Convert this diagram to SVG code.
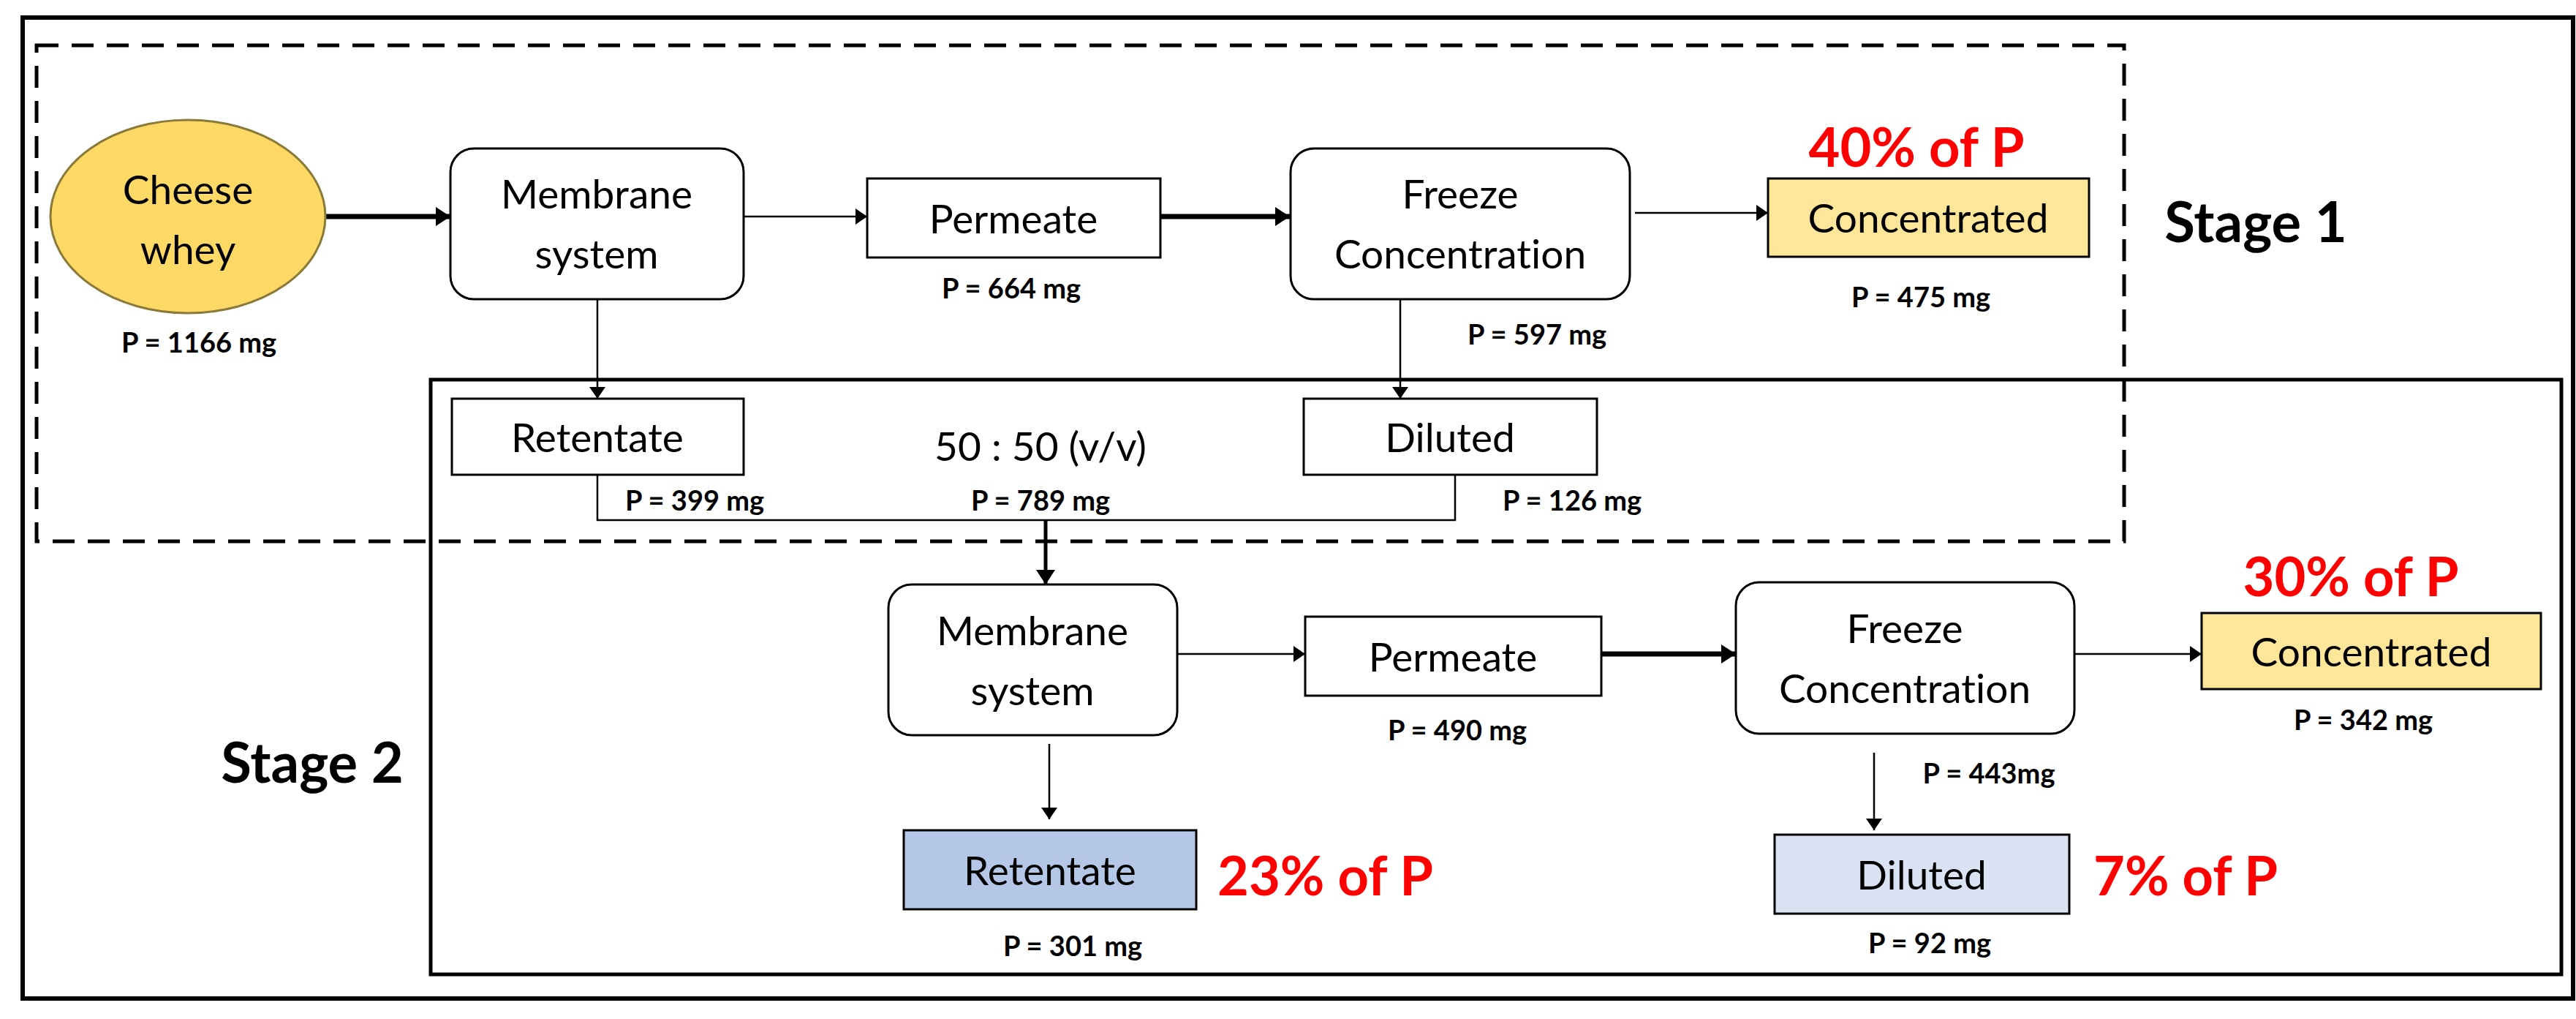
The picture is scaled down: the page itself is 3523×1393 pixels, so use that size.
<svg xmlns="http://www.w3.org/2000/svg" width="3523" height="1393" viewBox="0 0 3523 1393">
<style>
text{font-variant-ligatures:none}
.n{fill:#fff;stroke:#000;stroke-width:3}
.t{font-family:Lato,"Liberation Sans",sans-serif;font-size:55px;fill:#000;text-anchor:middle;dominant-baseline:central}
.p{font-family:Lato,"Liberation Sans",sans-serif;font-size:38px;font-weight:bold;fill:#000;text-anchor:middle;dominant-baseline:central}
.r{font-family:Lato,"Liberation Sans",sans-serif;font-size:74px;font-weight:bold;fill:#f00;dominant-baseline:central}
.s{font-family:Lato,"Liberation Sans",sans-serif;font-size:76px;font-weight:bold;fill:#000;text-anchor:middle;dominant-baseline:central}
.c{fill:none;stroke:#000;stroke-width:2.5}
.k{fill:none;stroke:#000;stroke-width:7}
</style>
<defs>
<marker id="ah" markerWidth="16" markerHeight="22" refX="16" refY="11" orient="auto" markerUnits="userSpaceOnUse"><path d="M0,0L16,11L0,22z"/></marker>
<marker id="ak" markerWidth="20" markerHeight="26" refX="20" refY="13" orient="auto" markerUnits="userSpaceOnUse"><path d="M0,0L20,13L0,26z"/></marker>
</defs>
<rect width="3523" height="1393" fill="#fff"/>
<rect x="31" y="24" width="3488" height="1341" fill="none" stroke="#000" stroke-width="6"/>
<rect x="50" y="62" width="2855" height="678" fill="none" stroke="#000" stroke-width="5" stroke-dasharray="30,18"/>
<rect x="589" y="519" width="2914" height="813" fill="none" stroke="#000" stroke-width="5"/>
<text class="s" x="3085" y="301">Stage 1</text>
<text class="s" x="427" y="1040">Stage 2</text>
<g id="connectors">
<line class="k" x1="445" y1="296" x2="616" y2="296" marker-end="url(#ak)"/>
<line class="c" x1="1017" y1="296" x2="1186" y2="296" marker-end="url(#ah)"/>
<line class="k" x1="1587" y1="296" x2="1764" y2="296" marker-end="url(#ak)"/>
<line class="c" x1="2236" y1="291" x2="2418" y2="291" marker-end="url(#ah)"/>
<line class="c" x1="817" y1="409" x2="817" y2="545" marker-end="url(#ah)"/>
<line class="c" x1="1915" y1="409" x2="1915" y2="545" marker-end="url(#ah)"/>
<polyline class="c" points="817,649 817,711 1990,711 1990,649"/>
<line stroke="#000" stroke-width="5" x1="1430" y1="711" x2="1430" y2="799" marker-end="url(#ak)"/>
<line class="c" x1="1610" y1="894" x2="1785" y2="894" marker-end="url(#ah)"/>
<line class="k" x1="2190" y1="894" x2="2374" y2="894" marker-end="url(#ak)"/>
<line class="c" x1="2837" y1="894" x2="3011" y2="894" marker-end="url(#ah)"/>
<line class="c" x1="1435" y1="1017" x2="1435" y2="1120" marker-end="url(#ah)"/>
<line class="c" x1="2563" y1="1029" x2="2563" y2="1135" marker-end="url(#ah)"/>
</g>
<g id="whey"><ellipse cx="257" cy="296" rx="188" ry="132" fill="#FFD966" stroke="#8a7a3a" stroke-width="3"/><text class="t" x="257" y="258">Cheese</text><text class="t" x="257" y="340">whey</text><text class="p" x="272" y="467">P = 1166 mg</text></g>
<g id="mem1"><rect class="n" x="616" y="203" width="401" height="206" rx="32"/><text class="t" x="816" y="264">Membrane</text><text class="t" x="816" y="346">system</text></g>
<g id="perm1"><rect class="n" x="1186" y="244" width="401" height="108"/><text class="t" x="1386" y="298">Permeate</text><text class="p" x="1383" y="393">P = 664 mg</text></g>
<g id="freeze1"><rect class="n" x="1765" y="203" width="464" height="206" rx="32"/><text class="t" x="1997" y="264">Freeze</text><text class="t" x="1997" y="346">Concentration</text><text class="p" x="2102" y="456">P = 597 mg</text></g>
<g id="conc1"><rect x="2418" y="244" width="439" height="107" fill="#FFE699" stroke="#000" stroke-width="3"/><text class="t" x="2637" y="297">Concentrated</text><text class="r" x="2621" y="199" text-anchor="middle">40% of P</text><text class="p" x="2627" y="405">P = 475 mg</text></g>
<g id="ret1"><rect class="n" x="618" y="545" width="399" height="104"/><text class="t" x="817" y="597">Retentate</text><text class="p" x="950" y="683">P = 399 mg</text></g>
<g id="mix"><text class="t" x="1423" y="609">50 : 50 (v/v)</text><text class="p" x="1423" y="683">P = 789 mg</text></g>
<g id="dil1"><rect class="n" x="1783" y="545" width="401" height="104"/><text class="t" x="1983" y="597">Diluted</text><text class="p" x="2150" y="683">P = 126 mg</text></g>
<g id="mem2"><rect class="n" x="1215" y="799" width="395" height="206" rx="32"/><text class="t" x="1412" y="861">Membrane</text><text class="t" x="1412" y="943">system</text></g>
<g id="perm2"><rect class="n" x="1785" y="843" width="405" height="108"/><text class="t" x="1987" y="897">Permeate</text><text class="p" x="1993" y="997">P = 490 mg</text></g>
<g id="freeze2"><rect class="n" x="2374" y="796" width="463" height="207" rx="32"/><text class="t" x="2605" y="858">Freeze</text><text class="t" x="2605" y="940">Concentration</text><text class="p" x="2720" y="1056">P = 443mg</text></g>
<g id="conc2"><rect x="3011" y="838" width="464" height="104" fill="#FFE699" stroke="#000" stroke-width="3"/><text class="t" x="3243" y="890">Concentrated</text><text class="r" x="3215" y="786" text-anchor="middle">30% of P</text><text class="p" x="3232" y="983">P = 342 mg</text></g>
<g id="ret2"><rect x="1236" y="1135" width="400" height="108" fill="#B4C7E7" stroke="#000" stroke-width="3"/><text class="t" x="1436" y="1189">Retentate</text><text class="r" x="1665" y="1195">23% of P</text><text class="p" x="1467" y="1292">P = 301 mg</text></g>
<g id="dil2"><rect x="2427" y="1141" width="403" height="108" fill="#DAE3F3" stroke="#000" stroke-width="3"/><text class="t" x="2628" y="1195">Diluted</text><text class="r" x="2863" y="1195">7% of P</text><text class="p" x="2639" y="1288">P = 92 mg</text></g>
</svg>
